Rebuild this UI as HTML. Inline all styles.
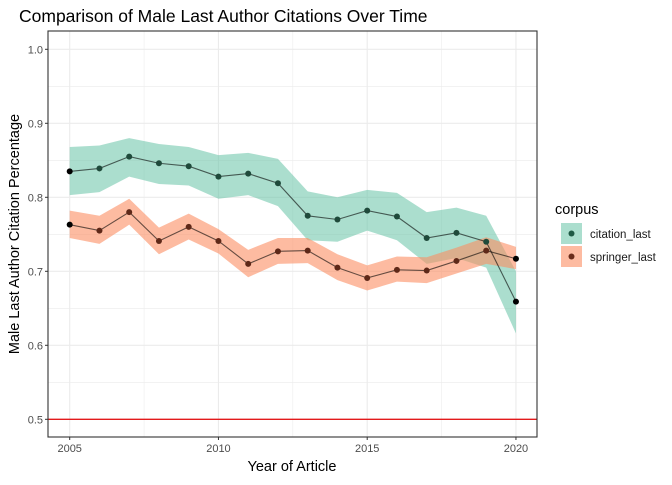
<!DOCTYPE html>
<html><head><meta charset="utf-8"><style>
body{margin:0;background:#fff}
svg text{font-family:"Liberation Sans",sans-serif}
</style></head><body>
<svg id="chart" width="672" height="480" viewBox="0 0 672 480">
<text x="19" y="22" font-size="17.5" fill="#000">Comparison of Male Last Author Citations Over Time</text>
<g id="grid"></g>
<g id="bands"></g>
<g id="lines"></g>
<g id="pts"></g>
<g id="axes"></g>
<text x="292" y="471" font-size="14.5" text-anchor="middle">Year of Article</text>
<text transform="translate(19,234) rotate(-90)" font-size="14.5" text-anchor="middle">Male Last Author Citation Percentage</text>
<g>
<text x="555" y="214" font-size="14.5">corpus</text>
<g>
<rect x="561" y="223" width="21" height="21" fill="#66c2a5" fill-opacity="0.55"/>
<circle cx="571.5" cy="233.5" r="3" fill="#1f5a45"/>
<text x="590" y="238" font-size="11.5" fill="#1a1a1a">citation_last</text></g>
<g>
<rect x="561" y="246" width="21" height="21" fill="#fc8d62" fill-opacity="0.6"/>
<circle cx="571.5" cy="256.5" r="3" fill="#6b2c1a"/>
<text x="590" y="261" font-size="11.5" fill="#1a1a1a">springer_last</text></g>
</g>
</svg>
<script>
const years=[2005,2006,2007,2008,2009,2010,2011,2012,2013,2014,2015,2016,2017,2018,2019,2020];
const citation=[0.835,0.839,0.855,0.846,0.842,0.828,0.832,0.819,0.775,0.770,0.782,0.774,0.745,0.752,0.740,0.659];
const citationLo=[0.803,0.807,0.828,0.818,0.816,0.798,0.803,0.788,0.742,0.740,0.755,0.742,0.710,0.718,0.705,0.616];
const citationHi=[0.868,0.870,0.880,0.872,0.868,0.857,0.860,0.852,0.808,0.800,0.810,0.806,0.780,0.786,0.775,0.700];
const springer=[0.763,0.755,0.780,0.741,0.760,0.741,0.710,0.727,0.728,0.705,0.691,0.702,0.701,0.714,0.728,0.717];
const springerLo=[0.745,0.737,0.763,0.723,0.743,0.724,0.692,0.710,0.711,0.688,0.674,0.686,0.684,0.697,0.710,0.703];
const springerHi=[0.782,0.775,0.798,0.759,0.778,0.757,0.729,0.745,0.745,0.723,0.708,0.720,0.719,0.732,0.746,0.733];
const xTicks=[2005,2010,2015,2020];
const yTicks=[0.5,0.6,0.7,0.8,0.9,1.0];
const hline=0.5;
const L=48,R=537,T=31,B=437;
const x=v=>69.7+(v-2005)*29.75;
const y=v=>419.3-(v-0.5)*740;
const NS='http://www.w3.org/2000/svg';
function mk(p,tag,at){const e=document.createElementNS(NS,tag);for(const k in at)e.setAttribute(k,at[k]);document.getElementById(p).appendChild(e);return e;}
// grid
for(let v=0.45;v<=1.04;v+=0.05){const yy=y(v);if(yy<T||yy>B)continue;const major=Math.abs(v*10-Math.round(v*10))<1e-6;
const g=mk('grid','line',{x1:L,x2:R,y1:yy,y2:yy,stroke:'#ebebeb','stroke-width':major?1.1:0.55});

}
for(let v=2002.5;v<=2022.5;v+=2.5){const xx=x(v);if(xx<L||xx>R)continue;const major=v%5===0;
const g=mk('grid','line',{x1:xx,x2:xx,y1:T,y2:B,stroke:'#ebebeb','stroke-width':major?1.1:0.55});

}
function band(lo,hi,col,op,name){let d='M'+years.map((yr,i)=>x(yr)+','+y(hi[i])).join('L');
for(let i=years.length-1;i>=0;i--)d+='L'+x(years[i])+','+y(lo[i]);d+='Z';
const p=mk('bands','path',{d:d,fill:col,'fill-opacity':op});

}
band(citationLo,citationHi,'#66c2a5',0.55,'citation-ci-band');
band(springerLo,springerHi,'#fc8d62',0.6,'springer-ci-band');
const hl=mk('lines','line',{x1:L,x2:R,y1:y(hline),y2:y(hline),stroke:'#e31a1c','stroke-width':1.3});


function series(vals,col,name){
const pl=mk('lines','polyline',{points:years.map((yr,i)=>x(yr)+','+y(vals[i])).join(' '),fill:'none',stroke:'#000','stroke-opacity':0.6,'stroke-width':1.1});


years.forEach((yr,i)=>{const c=mk('pts','circle',{cx:x(yr),cy:y(vals[i]),r:3,fill:i===0||i===years.length-1?'#000':col});

});}
series(citation,'#1f4a3b','citation');
series(springer,'#5e2818','springer');
// axes
const fr=mk('axes','rect',{x:L,y:T,width:R-L,height:B-T,fill:'none',stroke:'#333','stroke-width':1.1});


yTicks.forEach(v=>{mk('axes','line',{x1:L-3,x2:L,y1:y(v),y2:y(v),stroke:'#333'});
const t=mk('axes','text',{x:L-5,y:y(v)+4,'font-size':11,'text-anchor':'end',fill:'#4d4d4d'});t.textContent=v.toFixed(1);

});
xTicks.forEach(v=>{mk('axes','line',{x1:x(v),x2:x(v),y1:B,y2:B+3,stroke:'#333'});
const t=mk('axes','text',{x:x(v),y:B+15,'font-size':11,'text-anchor':'middle',fill:'#4d4d4d'});t.textContent=v;

});
</script>
</body></html>
